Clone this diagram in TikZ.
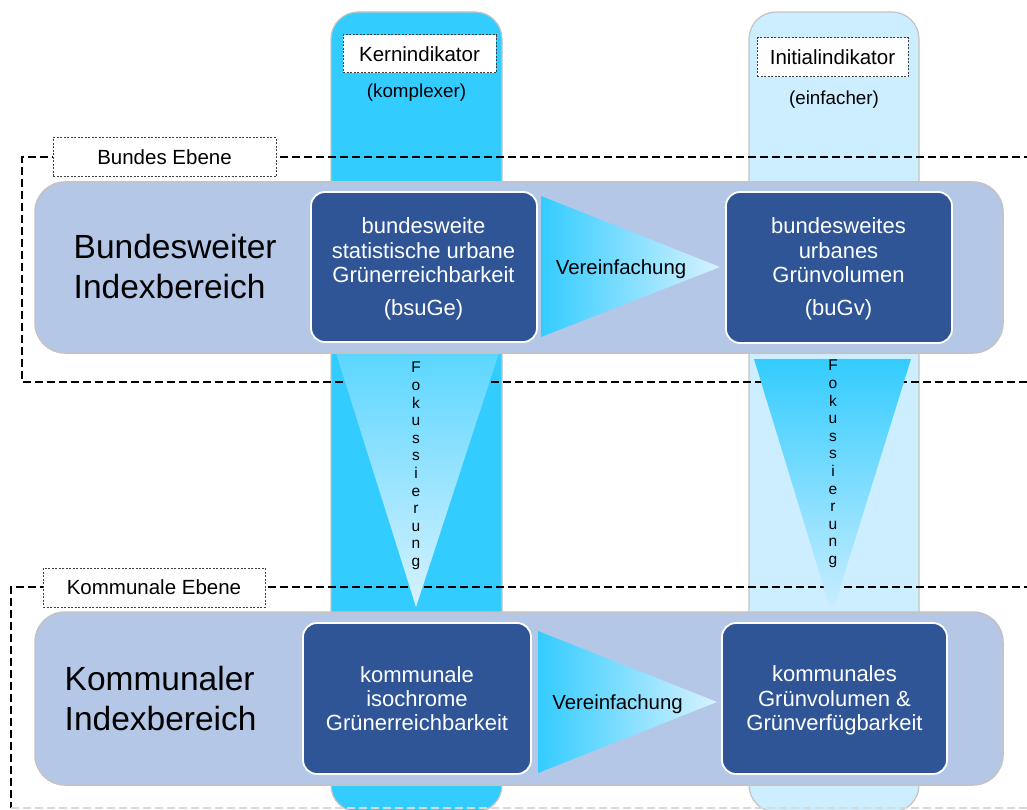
\documentclass[tikz,border=0pt]{standalone}
\usepackage{fontspec}
\setmainfont{Liberation Sans}
\definecolor{cyanC}{RGB}{51,204,255}
\definecolor{lightC}{RGB}{204,238,255}
\definecolor{panelC}{RGB}{180,199,231}
\definecolor{darkC}{RGB}{47,85,151}
\definecolor{edgeC}{RGB}{195,195,195}
\definecolor{fadeC}{RGB}{215,242,255}
\begin{document}
\begin{tikzpicture}[x=1pt,y=-1pt,
  column/.style={rounded corners=27pt, line width=1.2pt, draw=edgeC, inner sep=0pt},
  panel/.style={rounded corners=30pt, fill=panelC, draw=edgeC, line width=1.5pt, inner sep=0pt},
  darkbox/.style={rounded corners=14pt, fill=darkC, draw=white, line width=1.8pt, inner sep=0pt},
  boxtext/.style={text=white, align=center, inner sep=0pt, font=\fontsize{22}{24.3}\selectfont},
  bigtext/.style={align=left, inner sep=0pt, font=\fontsize{33.5}{40}\selectfont},
  labelbox/.style={draw=black!75, fill=white, dash pattern=on 2pt off 1.5pt, line width=1pt, inner sep=0pt, font=\fontsize{20.5}{24}\selectfont},
  subtext/.style={inner sep=0pt, font=\fontsize{18.8}{22}\selectfont},
  ebene/.style={draw=black, line width=2.4pt, dash pattern=on 8pt off 4pt},
  fokus/.style={align=center, inner sep=0pt, text=black, font=\fontsize{15.5}{17.6}\selectfont},
  vtext/.style={inner sep=0pt, font=\fontsize{20.4}{24}\selectfont}
]
\useasboundingbox (0,0) rectangle (1027,810);

% columns
\node[column, fill=cyanC, minimum width=171pt, minimum height=800pt] (kcol) at (416.5,412) {};
\node[column, fill=lightC, minimum width=170pt, minimum height=800pt] (icol) at (834,412) {};

% level frames
\coordinate (bTR) at (1032,157);
\coordinate (bTL) at (22,157);
\coordinate (bBL) at (22,382);
\coordinate (bBR) at (1032,382);
\draw[ebene] (bTR) -- (bTL) -- (bBL) -- (bBR);
\coordinate (kTR) at (1032,587);
\coordinate (kTL) at (11,587);
\coordinate (kBL) at (11,808);
\coordinate (kBR) at (1032,808);
\draw[ebene] (kTR) -- (kTL) -- (kBL);
\draw[draw=black!15, line width=1.2pt, dash pattern=on 8pt off 4pt] (kBL) -- (kBR);

% focus triangles
\shade[top color=cyanC!80!white, bottom color=fadeC] (336,353) -- (499,353) -- (416,607) -- cycle;
\shade[top color=cyanC, bottom color=lightC] (754,359) -- (911,359) -- (832,614) -- cycle;

% panels
\node[panel, minimum width=968pt, minimum height=171pt] (bpanel) at (519,267.5) {};
\node[panel, minimum width=968pt, minimum height=173pt] (kpanel) at (519,698.5) {};

% simplification triangles
\shade[left color=cyanC, right color=fadeC] (541,196) -- (720,267) -- (541,337) -- cycle;
\shade[left color=cyanC, right color=fadeC] (538,631) -- (717,702) -- (538,773) -- cycle;
\node[vtext] (v1) at (621,269) {Vereinfachung};
\node[vtext] (v2) at (617.5,704.5) {Vereinfachung};

% dark boxes
\node[darkbox, minimum width=226pt, minimum height=150pt] (bsuge) at (424,267) {};
\node[darkbox, minimum width=226pt, minimum height=151pt] (bugv) at (839,267.5) {};
\node[darkbox, minimum width=228pt, minimum height=151pt] (kig) at (417,698.5) {};
\node[darkbox, minimum width=225pt, minimum height=151pt] (kgv) at (834.5,698.5) {};
\node[boxtext] (t1) at (423.5,268.8) {bundesweite\\statistische urbane\\Grünerreichbarkeit\\[8.2pt](bsuGe)};
\node[boxtext] (t2) at (838.5,268.8) {bundesweites\\urbanes\\Grünvolumen\\[8.2pt](buGv)};
\node[boxtext] (t3) at (417,698.5) {kommunale\\isochrome\\Grünerreichbarkeit};
\node[boxtext] (t4) at (834.5,700.5) {kommunales\\Grünvolumen \&\\Grünverfügbarkeit};

% big labels
\node[bigtext, anchor=south west] (bidx) at (73.5,299) {Bundesweiter\\Indexbereich};
\node[bigtext, anchor=south west] (kidx) at (64.5,731) {Kommunaler\\Indexbereich};

% focus letters
\node[fokus] (f1) at (416,466) {F\\o\\k\\u\\s\\s\\i\\e\\r\\u\\n\\g};
\node[fokus] (f2) at (833,464) {F\\o\\k\\u\\s\\s\\i\\e\\r\\u\\n\\g};

% label boxes
\node[labelbox, minimum width=153pt, minimum height=38pt] (kern) at (419.5,54) {Kernindikator};
\node[subtext] (komp) at (416.5,93) {(komplexer)};
\node[labelbox, minimum width=151pt, minimum height=39pt] (init) at (832.5,57.5) {Initialindikator};
\node[subtext] (einf) at (834,100) {(einfacher)};
\node[labelbox, minimum width=223pt, minimum height=39pt] (bebene) at (164.5,157.5) {Bundes Ebene};
\node[labelbox, minimum width=222pt, minimum height=39pt] (kebene) at (154,587.5) {Kommunale Ebene};
\end{tikzpicture}
\end{document}
